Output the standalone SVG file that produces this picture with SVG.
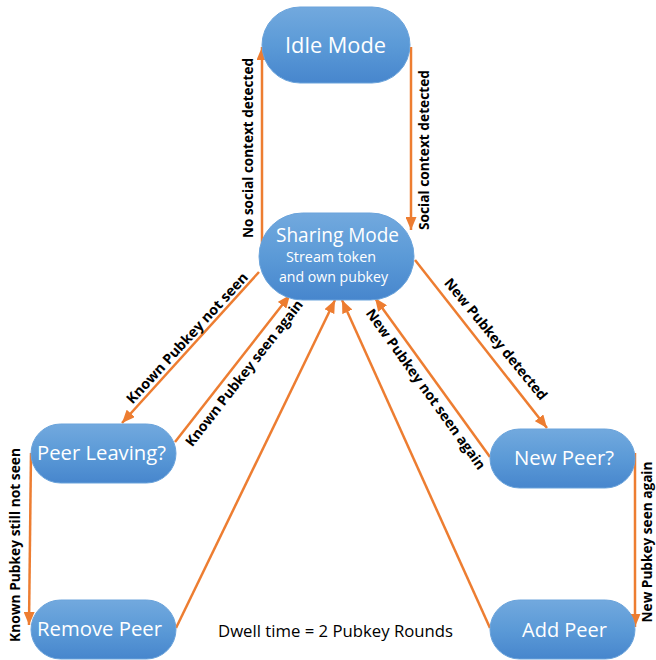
<svg xmlns="http://www.w3.org/2000/svg" width="656" height="660" viewBox="0 0 656 660">
<defs>
<linearGradient id="nodeFill" x1="0" y1="0" x2="0" y2="1">
<stop offset="0" stop-color="#72a9de"/>
<stop offset="0.5" stop-color="#5b9ad7"/>
<stop offset="1" stop-color="#4786cd"/>
</linearGradient>
<marker id="arrow" markerUnits="userSpaceOnUse" markerWidth="13" markerHeight="11" refX="13" refY="5.5" orient="auto">
<path d="M0,0 L13,5.5 L0,11 z" fill="#ED7D31"/>
</marker>
</defs>
<style>
.node rect { fill: url(#nodeFill); stroke: #6aa3db; stroke-width: 1; }
.node text { fill: #ffffff; font-family: "Open Sans", "Liberation Sans", sans-serif; text-anchor: middle; }
.conn line { stroke: #ED7D31; stroke-width: 2.5; fill: none; marker-end: url(#arrow); }
.lbl { font-family: "Open Sans", "Liberation Sans", sans-serif; font-weight: bold; font-size: 14px; fill: #000000; text-anchor: middle; }
.note { font-family: "Open Sans", "Liberation Sans", sans-serif; font-size: 15.5px; fill: #000000; }
</style>
<rect width="656" height="660" fill="#ffffff"/>
<g id="connectors" class="conn">
<line x1="262" y1="245" x2="262" y2="47"/>
<line x1="411" y1="47" x2="411" y2="230"/>
<line x1="259" y1="272" x2="122" y2="423"/>
<line x1="175" y1="442" x2="290" y2="295"/>
<line x1="176" y1="628" x2="335" y2="300"/>
<line x1="490" y1="628" x2="342" y2="300"/>
<line x1="415" y1="260" x2="547" y2="428"/>
<line x1="490" y1="457" x2="375" y2="298"/>
<line x1="31" y1="453" x2="29" y2="625"/>
<line x1="635" y1="453" x2="635" y2="627"/>
</g>
<g id="labels">
<text class="lbl" transform="translate(248,148) rotate(-90)" dy="0.36em" textLength="180" lengthAdjust="spacingAndGlyphs">No social context detected</text>
<text class="lbl" transform="translate(424,150) rotate(-90)" dy="0.36em" textLength="160" lengthAdjust="spacingAndGlyphs">Social context detected</text>
<text class="lbl" transform="translate(187,338) rotate(-47.5)" dy="0.36em" textLength="172" lengthAdjust="spacingAndGlyphs">Known Pubkey not seen</text>
<text class="lbl" transform="translate(244,373) rotate(-52)" dy="0.36em" textLength="181" lengthAdjust="spacingAndGlyphs">Known Pubkey seen again</text>
<text class="lbl" transform="translate(496,339) rotate(50.5)" dy="0.36em" textLength="153" lengthAdjust="spacingAndGlyphs">New Pubkey detected</text>
<text class="lbl" transform="translate(426,389) rotate(54.3)" dy="0.36em" textLength="194" lengthAdjust="spacingAndGlyphs">New Pubkey not seen again</text>
<text class="lbl" transform="translate(14.5,545) rotate(-90)" dy="0.36em" textLength="194" lengthAdjust="spacingAndGlyphs">Known Pubkey still not seen</text>
<text class="lbl" transform="translate(647,542) rotate(-90)" dy="0.36em" textLength="161" lengthAdjust="spacingAndGlyphs">New Pubkey seen again</text>
</g>
<g id="idle" class="node">
<rect x="262" y="7" width="148" height="76" rx="38" ry="38"/>
<text x="335.5" y="53" font-size="22" textLength="101" lengthAdjust="spacingAndGlyphs">Idle Mode</text>
</g>
<g id="sharing" class="node">
<rect x="259" y="213" width="155" height="87" rx="43.5" ry="43.5"/>
<text x="337.5" y="242" font-size="20" textLength="123" lengthAdjust="spacingAndGlyphs">Sharing Mode</text>
<text x="331" y="262" font-size="14.5" textLength="90" lengthAdjust="spacingAndGlyphs">Stream token</text>
<text x="333.5" y="282" font-size="14.5" textLength="109" lengthAdjust="spacingAndGlyphs">and own pubkey</text>
</g>
<g id="peer-leaving" class="node">
<rect x="31" y="424" width="145" height="59" rx="29.5" ry="29.5"/>
<text x="101.5" y="460" font-size="20" textLength="129" lengthAdjust="spacingAndGlyphs">Peer Leaving?</text>
</g>
<g id="remove-peer" class="node">
<rect x="31" y="600" width="145" height="59" rx="29.5" ry="29.5"/>
<text x="99.5" y="636" font-size="20" textLength="125" lengthAdjust="spacingAndGlyphs">Remove Peer</text>
</g>
<g id="new-peer" class="node">
<rect x="490" y="429" width="145" height="59" rx="29.5" ry="29.5"/>
<text x="564" y="465" font-size="20" textLength="100" lengthAdjust="spacingAndGlyphs">New Peer?</text>
</g>
<g id="add-peer" class="node">
<rect x="490" y="600" width="145" height="59" rx="29.5" ry="29.5"/>
<text x="564.5" y="637" font-size="20" textLength="85" lengthAdjust="spacingAndGlyphs">Add Peer</text>
</g>
<text class="note" x="218" y="637" textLength="235" lengthAdjust="spacingAndGlyphs">Dwell time = 2 Pubkey Rounds</text>
</svg>
